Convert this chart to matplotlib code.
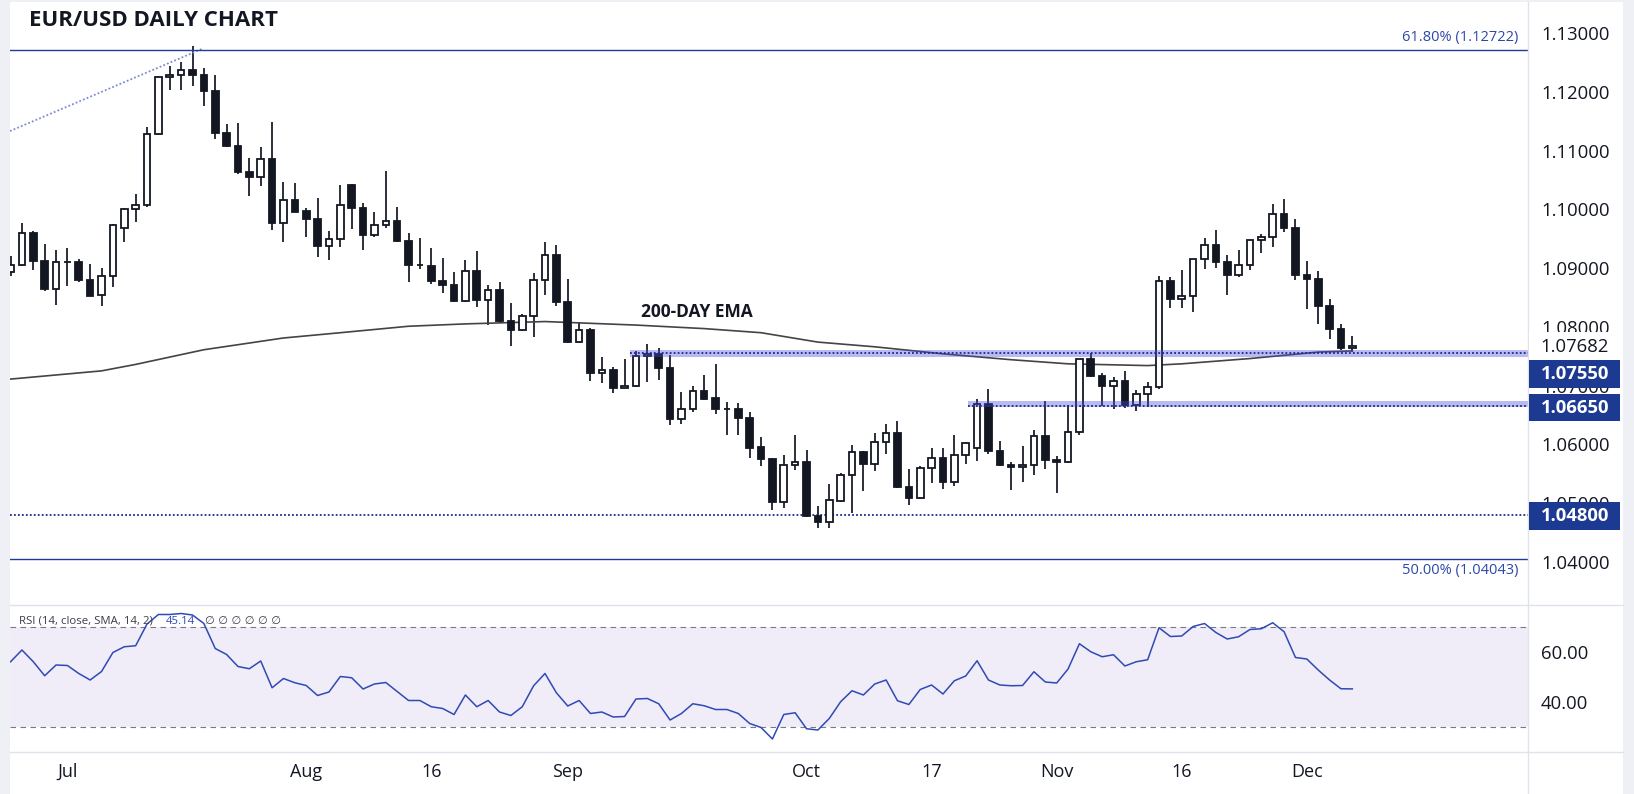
import numpy as np
import pandas as pd
import matplotlib.pyplot as plt
from matplotlib.patches import Rectangle
from matplotlib.lines import Line2D
from matplotlib.transforms import IdentityTransform

plt.rcParams['font.family'] = ['Open Sans', 'DejaVu Sans']

# EUR/USD daily candles, 26 Jun - 7 Dec 2023
opens = [1.08934, 1.09048, 1.09605, 1.09127, 1.08644, 1.09099, 1.09105, 1.08803, 1.08536, 1.08866,
         1.09684, 1.10008, 1.10076, 1.11286, 1.12256, 1.12290, 1.12381, 1.12296, 1.12023, 1.11308,
         1.11087, 1.10643, 1.10553, 1.10865, 1.09769, 1.10161, 1.09979, 1.09843, 1.09371, 1.09496,
         1.10422, 1.10030, 1.09559, 1.09735, 1.09808, 1.09468, 1.09054, 1.09042, 1.08786, 1.08718,
         1.08434, 1.08957, 1.08451, 1.08633, 1.08105, 1.07939, 1.08184, 1.08803, 1.09230, 1.08428,
         1.07735, 1.07951, 1.07213, 1.07264, 1.06957, 1.06985, 1.07508, 1.07542, 1.07304, 1.06423,
         1.06599, 1.06911, 1.06786, 1.06605, 1.06605, 1.06452, 1.05952, 1.05748, 1.05010, 1.05646,
         1.05703, 1.04782, 1.04669, 1.05033, 1.05476, 1.05866, 1.05663, 1.06037, 1.06191, 1.05277,
         1.05078, 1.05595, 1.05765, 1.05351, 1.05816, 1.05935, 1.06684, 1.05884, 1.05646, 1.05606,
         1.05646, 1.06140, 1.05731, 1.05691, 1.06208, 1.07451, 1.07167, 1.06996, 1.07082, 1.06662,
         1.06855, 1.06974, 1.08781, 1.08474, 1.08519, 1.09155, 1.09394, 1.09110, 1.08883, 1.09054,
         1.09479, 1.09530, 1.09928, 1.09689, 1.08888, 1.08820, 1.08360, 1.07968, 1.07639]
highs = [1.09201, 1.09775, 1.09639, 1.09417, 1.09315, 1.09349, 1.09161, 1.09076, 1.09008, 1.09746,
         1.10019, 1.10269, 1.11404, 1.12279, 1.12449, 1.12506, 1.12778, 1.12409, 1.12296, 1.11461,
         1.11478, 1.10882, 1.11070, 1.11495, 1.10473, 1.10456, 1.10025, 1.10201, 1.09639, 1.10422,
         1.10433, 1.10115, 1.09962, 1.10660, 1.10047, 1.09605, 1.09519, 1.09349, 1.09178, 1.08940,
         1.09144, 1.09297, 1.08718, 1.08769, 1.08411, 1.08224, 1.08923, 1.09451, 1.09400, 1.08820,
         1.08088, 1.07974, 1.07491, 1.07320, 1.07446, 1.07593, 1.07701, 1.07644, 1.07519, 1.06883,
         1.06985, 1.07184, 1.07371, 1.06718, 1.06701, 1.06548, 1.06122, 1.05765, 1.05822, 1.06162,
         1.05907, 1.04941, 1.05322, 1.05510, 1.05992, 1.05878, 1.06191, 1.06350, 1.06401, 1.05584,
         1.05623, 1.05941, 1.05941, 1.06162, 1.06032, 1.06769, 1.06946, 1.06060, 1.05691, 1.05975,
         1.06248, 1.06742, 1.05805, 1.06668, 1.07457, 1.07553, 1.07213, 1.07144, 1.07252, 1.06929,
         1.07065, 1.08866, 1.08855, 1.08962, 1.09161, 1.09519, 1.09655, 1.09229, 1.09315, 1.09485,
         1.09587, 1.10098, 1.10183, 1.09842, 1.09127, 1.08956, 1.08479, 1.08053, 1.07849]
lows = [1.08872, 1.09031, 1.08974, 1.08605, 1.08366, 1.08701, 1.08769, 1.08519, 1.08349, 1.08673,
        1.09440, 1.09780, 1.10036, 1.11274, 1.12040, 1.12040, 1.12097, 1.11756, 1.11200, 1.11064,
        1.10609, 1.10223, 1.10394, 1.09655, 1.09440, 1.09951, 1.09525, 1.09184, 1.09133, 1.09354,
        1.09661, 1.09303, 1.09525, 1.09678, 1.09440, 1.08758, 1.08979, 1.08724, 1.08570, 1.08423,
        1.08423, 1.08332, 1.08025, 1.08065, 1.07668, 1.07934, 1.07820, 1.08548, 1.08349, 1.07724,
        1.07718, 1.07071, 1.07037, 1.06866, 1.06951, 1.06980, 1.07054, 1.07099, 1.06321, 1.06338,
        1.06542, 1.06747, 1.06508, 1.06162, 1.06151, 1.05759, 1.05623, 1.04874, 1.04914, 1.05566,
        1.04765, 1.04567, 1.04567, 1.05021, 1.04828, 1.05197, 1.05538, 1.05827, 1.05260, 1.04958,
        1.05073, 1.05334, 1.05237, 1.05283, 1.05657, 1.05709, 1.05833, 1.05634, 1.05214, 1.05351,
        1.05476, 1.05572, 1.05168, 1.05674, 1.06151, 1.07144, 1.06645, 1.06599, 1.06616, 1.06559,
        1.06628, 1.06934, 1.08315, 1.08315, 1.08247, 1.08979, 1.09008, 1.08536, 1.08843, 1.08968,
        1.09252, 1.09354, 1.09609, 1.08791, 1.08303, 1.08042, 1.07792, 1.07599, 1.07565]
closes = [1.09059, 1.09599, 1.09116, 1.08639, 1.09105, 1.09110, 1.08792, 1.08531, 1.08866, 1.09735,
          1.10008, 1.10076, 1.11286, 1.12256, 1.12296, 1.12375, 1.12284, 1.12012, 1.11297, 1.11075,
          1.10632, 1.10547, 1.10865, 1.09763, 1.10161, 1.09962, 1.09831, 1.09371, 1.09496, 1.10076,
          1.10019, 1.09559, 1.09735, 1.09803, 1.09457, 1.09048, 1.09048, 1.08775, 1.08707, 1.08434,
          1.08957, 1.08451, 1.08627, 1.08093, 1.07939, 1.08184, 1.08803, 1.09224, 1.08417, 1.07735,
          1.07945, 1.07213, 1.07264, 1.06951, 1.06991, 1.07508, 1.07542, 1.07292, 1.06423, 1.06599,
          1.06911, 1.06775, 1.06599, 1.06599, 1.06440, 1.05941, 1.05742, 1.05010, 1.05646, 1.05697,
          1.04771, 1.04669, 1.05044, 1.05481, 1.05866, 1.05657, 1.06037, 1.06191, 1.05266, 1.05078,
          1.05595, 1.05765, 1.05351, 1.05816, 1.06020, 1.06684, 1.05878, 1.05640, 1.05606, 1.05646,
          1.06140, 1.05725, 1.05691, 1.06208, 1.07451, 1.07156, 1.06985, 1.07076, 1.06662, 1.06855,
          1.06974, 1.08781, 1.08468, 1.08525, 1.09155, 1.09394, 1.09099, 1.08883, 1.09054, 1.09479,
          1.09530, 1.09922, 1.09678, 1.08877, 1.08814, 1.08349, 1.07956, 1.07633, 1.07682]

# 200-day EMA, sampled along the curve
ema_idx = [0, 8, 11, 17, 24, 29, 35, 40, 47, 55, 61, 66, 71, 76, 82, 88, 93, 100, 103, 109, 115, 118]
ema_val = [1.0711, 1.0725, 1.0736, 1.0761, 1.0781, 1.0790, 1.0801, 1.0805, 1.0809, 1.0803, 1.0797,
           1.0790, 1.0774, 1.0766, 1.0754, 1.0744, 1.0737, 1.0734, 1.0737, 1.0746, 1.0757, 1.0759]

rsi = [56.0, 60.7, 56.0, 50.4, 54.7, 54.5, 51.3, 48.7, 52.1, 59.7,
       62.0, 62.4, 71.1, 74.9, 74.9, 75.3, 74.7, 71.3, 61.3, 58.9,
       54.1, 53.2, 56.3, 45.6, 49.3, 47.6, 46.5, 42.5, 43.9, 50.1,
       49.6, 45.1, 47.1, 47.7, 44.1, 40.5, 40.5, 38.0, 37.3, 34.9,
       42.7, 38.0, 40.5, 35.9, 34.5, 38.0, 46.4, 51.3, 43.6, 38.3,
       40.5, 35.3, 35.9, 33.9, 34.1, 41.1, 41.3, 39.2, 32.7, 35.3,
       39.2, 38.4, 36.9, 36.9, 35.3, 31.3, 29.7, 25.1, 34.9, 35.6,
       29.2, 28.7, 33.3, 40.0, 44.4, 42.7, 47.1, 48.7, 40.4, 38.9,
       44.9, 46.7, 43.1, 48.4, 50.3, 56.4, 48.7, 46.7, 46.4, 46.5,
       52.0, 47.9, 47.5, 53.1, 63.2, 60.0, 58.0, 58.8, 54.3, 56.0,
       56.8, 69.6, 66.1, 66.3, 70.1, 71.3, 67.7, 65.1, 66.0, 68.9,
       69.2, 71.6, 68.0, 57.7, 57.1, 52.7, 48.7, 45.2, 45.14]

fib_618 = 1.12722
fib_500 = 1.04043
fib_leg = ([-3, 16.9], [1.1109, 1.1274])   # dotted fib anchor line
support_line = 1.0480
zones = [(54.5, 1.0748, 1.0761, 1.0755), (84.2, 1.0663, 1.0674, 1.0665)]   # start bar, low, high, level
last_price = 1.07682

tick_dates = ["2023-07-03", "2023-08-01", "2023-08-16", "2023-09-01", "2023-10-02",
              "2023-10-17", "2023-11-01", "2023-11-16", "2023-12-01"]
tick_labels = ["Jul", "Aug", "16", "Sep", "Oct", "17", "Nov", "16", "Dec"]

dates = pd.bdate_range("2023-06-26", periods=len(opens))
tick_pos = dates.get_indexer(pd.to_datetime(tick_dates))

W, H = 1634, 794
fig = plt.figure(figsize=(W / 100, H / 100), dpi=100, facecolor="white")


def px_axes(x0, y0, x1, y1):
    return fig.add_axes([x0 / W, 1 - y1 / H, (x1 - x0) / W, (y1 - y0) / H])


ax = px_axes(10, 2, 1528, 605)
rx = px_axes(10, 605, 1528, 752)
XL = (-0.05, 133.45)

ink = "#131722"
navy = "#1f3b96"

# candles
x = np.arange(len(opens))
o, h, l, c = map(np.array, (opens, highs, lows, closes))
up = c >= o
lo = np.minimum(o, c)
hgt = np.maximum(np.abs(c - o), 0.00003)
ax.vlines(x, l, h, color=ink, lw=1.25, zorder=2)
ax.bar(x[up], hgt[up], bottom=lo[up], width=0.58, color="white", edgecolor=ink, linewidth=1.3, zorder=3)
ax.bar(x[~up], hgt[~up], bottom=lo[~up], width=0.58, color=ink, edgecolor=ink, linewidth=1.3, zorder=3)

# 200 EMA
ax.plot(ema_idx, ema_val, color="#444444", lw=1.2, zorder=2.5)
ax.text(60.4, 1.0825, "200-DAY EMA", fontsize=12.5, fontweight="bold", color=ink,
        ha="center", va="center")

# fib lines
ax.plot(*fib_leg, color="#7d8ad3", lw=1.3, ls=(0, (1, 1.2)), zorder=2)
ax.axhline(fib_618, color=navy, lw=1.0)
ax.axhline(fib_500, color=navy, lw=1.0)
ax.annotate("61.80% (1.12722)", xy=(132.6, fib_618), xytext=(0, 12.5), textcoords="offset pixels",
            ha="right", va="center", fontsize=10.5, color="#2c48a8")
ax.annotate("50.00% (1.04043)", xy=(132.6, fib_500), xytext=(0, -11.5), textcoords="offset pixels",
            ha="right", va="center", fontsize=10.5, color="#2c48a8")

# support / resistance
dots = (0, (1, 1.2))
ax.hlines(support_line, XL[0], XL[1], colors="#1b2a8a", linestyles=dots, lw=1.3)
for start, zlo, zhi, lvl in zones:
    ax.fill_between([start, XL[1]], zlo, zhi, color="#4a4ae0", alpha=0.38, lw=0, zorder=4)
    ax.hlines(lvl, start, XL[1], colors="#1b2a8a", linestyles=dots, lw=1.3, zorder=4)

ax.set_xlim(*XL)
ax.set_ylim(1.03262, 1.13533)
ax.set_xticks([])
ax.yaxis.tick_right()
ax.set_yticks(np.arange(1.04, 1.1301, 0.01))
ax.set_yticklabels([f"{v:.5f}" for v in np.arange(1.04, 1.1301, 0.01)])
ax.tick_params(axis="y", length=0, pad=9.4, labelsize=13.3, labelcolor=ink)
for s in ax.spines.values():
    s.set_visible(False)

# RSI panel
rx.axhspan(30, 70, color="#f0edf8", lw=0, zorder=0)
for lvl in (70, 30):
    rx.axhline(lvl, color="#787b86", lw=0.8, ls=(0, (5, 4)), zorder=1)
rx.plot(x, rsi, color="#2f4ab4", lw=1.1, zorder=3)
rx.set_xlim(*XL)
rx.set_ylim(19.9, 78.7)
rx.yaxis.tick_right()
rx.set_yticks([40, 60])
rx.set_yticklabels(["40.00", "60.00"])
rx.set_xticks(tick_pos)
rx.set_xticklabels(tick_labels)
rx.tick_params(axis="y", length=0, pad=9.4, labelsize=13.3, labelcolor=ink)
rx.tick_params(axis="x", length=0, pad=8, labelsize=13, labelcolor=ink)
for s in rx.spines.values():
    s.set_visible(False)

fig.text(19 / W, 1 - 621 / H, "RSI (14, close, SMA, 14, 2)", fontsize=8.2, color="#3a3d48", va="center")
fig.text(166 / W, 1 - 621 / H, "45.14", fontsize=8.2, color="#2f4ab4", va="center")
fig.text(205 / W, 1 - 621 / H, "\u2205 \u2205 \u2205 \u2205 \u2205 \u2205", fontsize=8,
         family=["DejaVu Sans"], color="#3a3d48", va="center")

# frame: gray margins and separators
grey = "#eff0f5"
sep = "#e0e3eb"
for r in [(0, 0, 10, H), (0, 0, W, 2), (1623, 0, W - 1623, H)]:
    fig.patches.append(Rectangle((r[0] / W, 1 - (r[1] + r[3]) / H), r[2] / W, r[3] / H,
                                 transform=fig.transFigure, facecolor=grey, edgecolor="none", zorder=0.5))
fig.add_artist(Line2D([1528 / W, 1528 / W], [0, 1 - 2 / H], color=sep, lw=1))
for yy in (605, 752):
    fig.add_artist(Line2D([10 / W, 1623 / W], [1 - yy / H] * 2, color=sep, lw=1))

# price tags on the scale
tags = [(last_price, "1.07682", "white", ink, "normal", 1, 29),
        (zones[0][3], "1.07550", "#1c3a92", "white", "bold", 21, 27.6),
        (zones[1][3], "1.06650", "#1c3a92", "white", "bold", 1.5, 27.6),
        (support_line, "1.04800", "#1c3a92", "white", "bold", 1, 27.6)]
for val, txt, bg, fg, wt, shift, th in tags:
    yd = ax.transData.transform((0, val))[1] - shift
    fig.patches.append(Rectangle((1528.5, yd - th / 2), 91.5, th, transform=IdentityTransform(),
                                 facecolor=bg, edgecolor="none", zorder=5))
    fig.text(1575 / W, yd / H, txt, fontsize=13.3, fontweight=wt, color=fg,
             ha="center", va="center", zorder=6)

fig.text(29 / W, 1 - 20 / H, "EUR/USD DAILY CHART", fontsize=16, fontweight="bold", color=ink,
         va="center", ha="left")

fig.savefig("out.png", dpi=100, facecolor="white")
